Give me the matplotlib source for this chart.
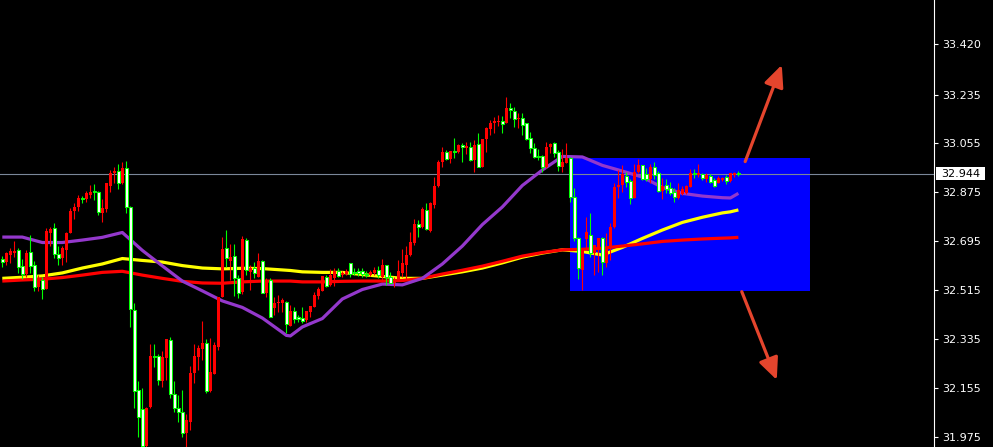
import numpy as np
import matplotlib
matplotlib.use('Agg')
import matplotlib.pyplot as plt
from matplotlib.patches import Rectangle
from matplotlib.transforms import blended_transform_factory

# OHLC bars, oldest first
opens = [
    32.629, 32.619, 32.645, 32.653, 32.662, 32.604, 32.574, 32.654, 32.607, 32.525,
    32.552, 32.519, 32.724, 32.742, 32.647, 32.634, 32.662, 32.726, 32.806, 32.822,
    32.853, 32.849, 32.865, 32.881, 32.877, 32.798, 32.812, 32.899, 32.947, 32.954,
    32.908, 32.963, 32.820, 32.442, 32.147, 32.076, 31.940, 32.083, 32.272, 32.272,
    32.181, 32.264, 32.331, 32.131, 32.080, 32.065, 31.988, 32.030, 32.209, 32.267,
    32.297, 32.319, 32.144, 32.206, 32.306, 32.491, 32.669, 32.622, 32.640, 32.558,
    32.509, 32.699, 32.583, 32.595, 32.562, 32.622, 32.505, 32.552, 32.450, 32.466,
    32.466, 32.472, 32.383, 32.438, 32.415, 32.411, 32.405, 32.435, 32.454, 32.493,
    32.513, 32.562, 32.534, 32.558, 32.586, 32.570, 32.574, 32.614, 32.583, 32.586,
    32.586, 32.574, 32.570, 32.577, 32.589, 32.562, 32.607, 32.564, 32.542, 32.552,
    32.579, 32.607, 32.644, 32.687, 32.758, 32.746, 32.810, 32.734, 32.828, 32.898,
    32.988, 33.023, 32.998, 33.027, 33.024, 33.049, 33.039, 33.041, 32.994, 33.053,
    32.969, 33.070, 33.107, 33.131, 33.135, 33.137, 33.129, 33.184, 33.175, 33.144,
    33.147, 33.129, 33.074, 33.037, 33.009, 33.009, 32.967, 33.041, 33.055, 33.022,
    32.969, 32.984, 33.000, 32.857, 32.706, 32.589, 32.702, 32.718, 32.650, 32.665,
    32.706, 32.614, 32.669, 32.746, 32.893, 32.902, 32.935, 32.918, 32.853, 32.951,
    32.975, 32.942, 32.923, 32.967, 32.945, 32.881, 32.902, 32.890, 32.877, 32.853,
    32.869, 32.871, 32.896, 32.945, 32.939, 32.941, 32.923, 32.935, 32.920, 32.910,
    32.920, 32.930, 32.918, 32.939, 32.947,
]
highs = [
    32.640, 32.656, 32.669, 32.696, 32.669, 32.628, 32.662, 32.718, 32.622, 32.570,
    32.564, 32.742, 32.748, 32.761, 32.677, 32.677, 32.730, 32.816, 32.834, 32.864,
    32.861, 32.881, 32.902, 32.906, 32.880, 32.850, 32.910, 32.957, 32.967, 32.979,
    32.985, 32.990, 32.825, 32.466, 32.180, 32.153, 32.086, 32.316, 32.316, 32.280,
    32.291, 32.334, 32.341, 32.180, 32.129, 32.147, 32.059, 32.235, 32.316, 32.313,
    32.401, 32.334, 32.337, 32.325, 32.488, 32.709, 32.736, 32.683, 32.683, 32.570,
    32.714, 32.706, 32.607, 32.619, 32.653, 32.626, 32.558, 32.558, 32.491, 32.497,
    32.485, 32.475, 32.460, 32.454, 32.423, 32.454, 32.438, 32.456, 32.509, 32.525,
    32.567, 32.570, 32.591, 32.595, 32.597, 32.586, 32.591, 32.616, 32.595, 32.595,
    32.595, 32.586, 32.589, 32.601, 32.604, 32.628, 32.607, 32.583, 32.564, 32.626,
    32.665, 32.677, 32.728, 32.776, 32.773, 32.822, 32.834, 32.840, 32.930, 32.994,
    33.041, 33.031, 33.027, 33.074, 33.053, 33.055, 33.061, 33.061, 33.068, 33.094,
    33.070, 33.117, 33.141, 33.151, 33.160, 33.156, 33.225, 33.205, 33.190, 33.168,
    33.166, 33.131, 33.098, 33.055, 33.033, 33.012, 33.061, 33.058, 33.061, 33.031,
    33.033, 33.058, 33.006, 32.890, 32.711, 32.669, 32.785, 32.798, 32.681, 32.706,
    32.711, 32.724, 32.761, 32.908, 32.957, 32.975, 32.951, 32.923, 32.979, 32.996,
    32.975, 32.963, 32.979, 32.988, 32.953, 32.927, 32.923, 32.914, 32.890, 32.908,
    32.898, 32.902, 32.960, 32.960, 32.979, 32.945, 32.945, 32.942, 32.927, 32.935,
    32.930, 32.939, 32.947, 32.951, 32.953,
]
lows = [
    32.600, 32.607, 32.614, 32.638, 32.579, 32.557, 32.564, 32.577, 32.513, 32.513,
    32.482, 32.519, 32.677, 32.632, 32.607, 32.607, 32.619, 32.726, 32.777, 32.807,
    32.837, 32.840, 32.853, 32.847, 32.791, 32.767, 32.804, 32.877, 32.908, 32.887,
    32.905, 32.798, 32.380, 32.080, 31.975, 31.925, 31.925, 32.080, 32.233, 32.165,
    32.157, 32.184, 32.116, 32.067, 32.030, 31.973, 31.937, 32.000, 32.172, 32.221,
    32.258, 32.135, 32.141, 32.206, 32.294, 32.491, 32.601, 32.552, 32.494, 32.485,
    32.500, 32.570, 32.515, 32.558, 32.562, 32.503, 32.491, 32.417, 32.423, 32.435,
    32.435, 32.356, 32.383, 32.395, 32.398, 32.395, 32.398, 32.415, 32.452, 32.481,
    32.513, 32.525, 32.530, 32.530, 32.562, 32.564, 32.570, 32.562, 32.570, 32.567,
    32.562, 32.564, 32.567, 32.570, 32.558, 32.546, 32.534, 32.540, 32.527, 32.552,
    32.564, 32.552, 32.640, 32.681, 32.711, 32.742, 32.736, 32.730, 32.816, 32.896,
    32.969, 32.994, 32.984, 33.000, 33.019, 32.988, 33.016, 32.991, 32.951, 32.967,
    32.969, 33.024, 33.086, 33.094, 33.119, 33.094, 33.129, 33.147, 33.117, 33.111,
    33.086, 33.068, 33.019, 33.000, 32.994, 32.951, 32.963, 33.019, 33.006, 32.955,
    32.951, 32.982, 32.840, 32.697, 32.555, 32.515, 32.665, 32.638, 32.570, 32.583,
    32.570, 32.601, 32.626, 32.742, 32.853, 32.877, 32.896, 32.832, 32.853, 32.945,
    32.920, 32.918, 32.910, 32.923, 32.877, 32.849, 32.873, 32.865, 32.840, 32.849,
    32.865, 32.869, 32.893, 32.926, 32.932, 32.920, 32.914, 32.910, 32.893, 32.908,
    32.917, 32.905, 32.914, 32.932, 32.935,
]
closes = [
    32.619, 32.653, 32.660, 32.660, 32.601, 32.574, 32.653, 32.604, 32.527, 32.558,
    32.519, 32.732, 32.740, 32.648, 32.634, 32.671, 32.726, 32.806, 32.822, 32.853,
    32.849, 32.871, 32.877, 32.876, 32.801, 32.816, 32.908, 32.947, 32.953, 32.908,
    32.966, 32.820, 32.444, 32.143, 32.049, 31.940, 32.082, 32.272, 32.267, 32.184,
    32.267, 32.334, 32.131, 32.080, 32.067, 31.988, 32.037, 32.209, 32.272, 32.301,
    32.319, 32.144, 32.214, 32.313, 32.488, 32.666, 32.632, 32.638, 32.558, 32.505,
    32.703, 32.589, 32.595, 32.579, 32.622, 32.505, 32.552, 32.417, 32.468, 32.472,
    32.478, 32.390, 32.439, 32.408, 32.410, 32.402, 32.438, 32.456, 32.497, 32.518,
    32.567, 32.530, 32.570, 32.586, 32.567, 32.579, 32.586, 32.574, 32.579, 32.579,
    32.574, 32.570, 32.583, 32.589, 32.570, 32.607, 32.564, 32.540, 32.552, 32.585,
    32.616, 32.644, 32.691, 32.758, 32.748, 32.812, 32.739, 32.834, 32.898, 32.988,
    33.023, 32.999, 33.027, 33.023, 33.049, 33.043, 33.045, 32.994, 33.049, 32.969,
    33.070, 33.113, 33.131, 33.137, 33.137, 33.126, 33.184, 33.178, 33.144, 33.147,
    33.123, 33.071, 33.037, 33.004, 33.004, 32.967, 33.041, 33.053, 33.021, 32.972,
    32.988, 33.000, 32.857, 32.706, 32.595, 32.669, 32.730, 32.653, 32.681, 32.706,
    32.619, 32.669, 32.748, 32.896, 32.902, 32.942, 32.914, 32.853, 32.951, 32.975,
    32.923, 32.923, 32.967, 32.939, 32.881, 32.898, 32.886, 32.871, 32.857, 32.883,
    32.886, 32.898, 32.947, 32.941, 32.945, 32.927, 32.939, 32.914, 32.898, 32.927,
    32.927, 32.918, 32.945, 32.945, 32.944,
]

# moving averages, sampled at these bar numbers
ma_bars = [0, 5, 10, 15, 20, 25, 30, 35, 40, 45, 50, 55, 60, 65, 70, 71, 72, 75, 80, 85,
           90, 95, 100, 105, 110, 115, 120, 125, 130, 135, 140, 145, 150, 155, 160, 165,
           170, 175, 180, 182, 184]
ma_fast = [32.710, 32.710, 32.690, 32.690, 32.699, 32.709, 32.727, 32.661, 32.604, 32.548,
           32.512, 32.475, 32.451, 32.412, 32.359, 32.348, 32.346, 32.379, 32.410, 32.482,
           32.517, 32.537, 32.534, 32.558, 32.611, 32.677, 32.756, 32.821, 32.900, 32.957,
           33.007, 33.005, 32.974, 32.953, 32.931, 32.893, 32.871, 32.861, 32.855, 32.854,
           32.871]
ma_mid = [32.558, 32.562, 32.567, 32.578, 32.596, 32.611, 32.631, 32.624, 32.618, 32.605,
          32.596, 32.593, 32.595, 32.594, 32.589, 32.588, 32.587, 32.582, 32.580, 32.580,
          32.572, 32.565, 32.558, 32.558, 32.570, 32.582, 32.596, 32.615, 32.636, 32.651,
          32.663, 32.657, 32.644, 32.672, 32.705, 32.736, 32.764, 32.783, 32.799, 32.803,
          32.810]
ma_slow = [32.548, 32.552, 32.555, 32.561, 32.570, 32.580, 32.584, 32.570, 32.558, 32.547,
           32.541, 32.540, 32.545, 32.548, 32.548, 32.548, 32.548, 32.545, 32.545, 32.547,
           32.548, 32.548, 32.550, 32.558, 32.574, 32.588, 32.603, 32.621, 32.640, 32.653,
           32.663, 32.665, 32.669, 32.677, 32.685, 32.694, 32.699, 32.703, 32.706, 32.707,
           32.709]

price_ticks = [33.420, 33.235, 33.055, 32.875, 32.695, 32.515, 32.335, 32.155, 31.975]
last_price = 32.944

# range box and breakout arrows (bar number, price)
zone_bars = (141.9, 201.9)
zone_prices = (32.513, 33.002)
arrow_up = ((185.7, 32.988), (194.85, 33.344))
arrow_down = ((184.85, 32.509), (193.6, 32.184))

o = np.array(opens)
h = np.array(highs)
l = np.array(lows)
c = np.array(closes)
x = np.arange(len(c))
up = c > o

fig = plt.figure(figsize=(9.93, 4.47), dpi=100, facecolor='black')
ax = fig.add_axes([0, 0, 934 / 993, 1], facecolor='black')
ax.set_xlim(-0.575, 232.9)
ax.set_ylim(31.937, 33.583)

ax.add_patch(Rectangle((zone_bars[0], zone_prices[0]), zone_bars[1] - zone_bars[0],
                       zone_prices[1] - zone_prices[0], facecolor='#0000ff',
                       edgecolor='none', zorder=1))
ax.axhline(last_price, color='#7a8799', lw=0.8, zorder=1.5)

ax.plot(ma_bars, ma_mid, color='#ffff00', lw=2.3, zorder=2, solid_capstyle='butt')
ax.plot(ma_bars, ma_slow, color='#ff0000', lw=2.3, zorder=2.1, solid_capstyle='butt')
ax.plot(ma_bars, ma_fast, color='#9438cc', lw=2.3, zorder=2.2, solid_capstyle='butt')

# candles: red bull bars, white bear bars with green outline
ax.vlines(x[up], l[up], h[up], color='#ff0000', lw=0.8, zorder=3)
ax.vlines(x[~up], l[~up], h[~up], color='#00ff00', lw=0.8, zorder=3)
body_lo = np.minimum(o, c)
body_h = np.maximum(np.abs(c - o), 0.003)
ax.bar(x[up], body_h[up], bottom=body_lo[up], width=0.8, color='#ff0000',
       lw=0, zorder=3.1)
ax.bar(x[~up], body_h[~up], bottom=body_lo[~up], width=0.65, facecolor='white',
       edgecolor='#00ff00', lw=0.75, zorder=3.1)

for tail, tip in (arrow_up, arrow_down):
    ax.annotate('', xy=tip, xytext=tail, zorder=4,
                arrowprops=dict(arrowstyle='-|>,head_length=1.1,head_width=0.5',
                                mutation_scale=12, color='#e5452d', lw=2.3,
                                capstyle='round', shrinkA=0, shrinkB=0))

# price scale on the right
ax.set_xticks([])
ax.yaxis.tick_right()
ax.set_yticks(price_ticks)
ax.set_yticklabels([f'{t:.3f}' for t in price_ticks])
ax.tick_params(axis='y', colors='white', length=3, width=0.8, pad=3, labelsize=8)
for side in ('left', 'top', 'bottom'):
    ax.spines[side].set_visible(False)
ax.spines['right'].set_color('white')
ax.spines['right'].set_linewidth(0.8)

tr = blended_transform_factory(ax.transAxes, ax.transData)
ax.add_patch(Rectangle((1.0021, last_price - 0.024), 0.0525, 0.048, transform=tr,
                       facecolor='white', edgecolor='none', clip_on=False, zorder=5))
ax.text(1.0075, last_price, f'{last_price:.3f}', transform=tr, color='black',
        fontsize=8, va='center', ha='left', zorder=6, clip_on=False)

fig.savefig('out.png', dpi=100, facecolor='black')
